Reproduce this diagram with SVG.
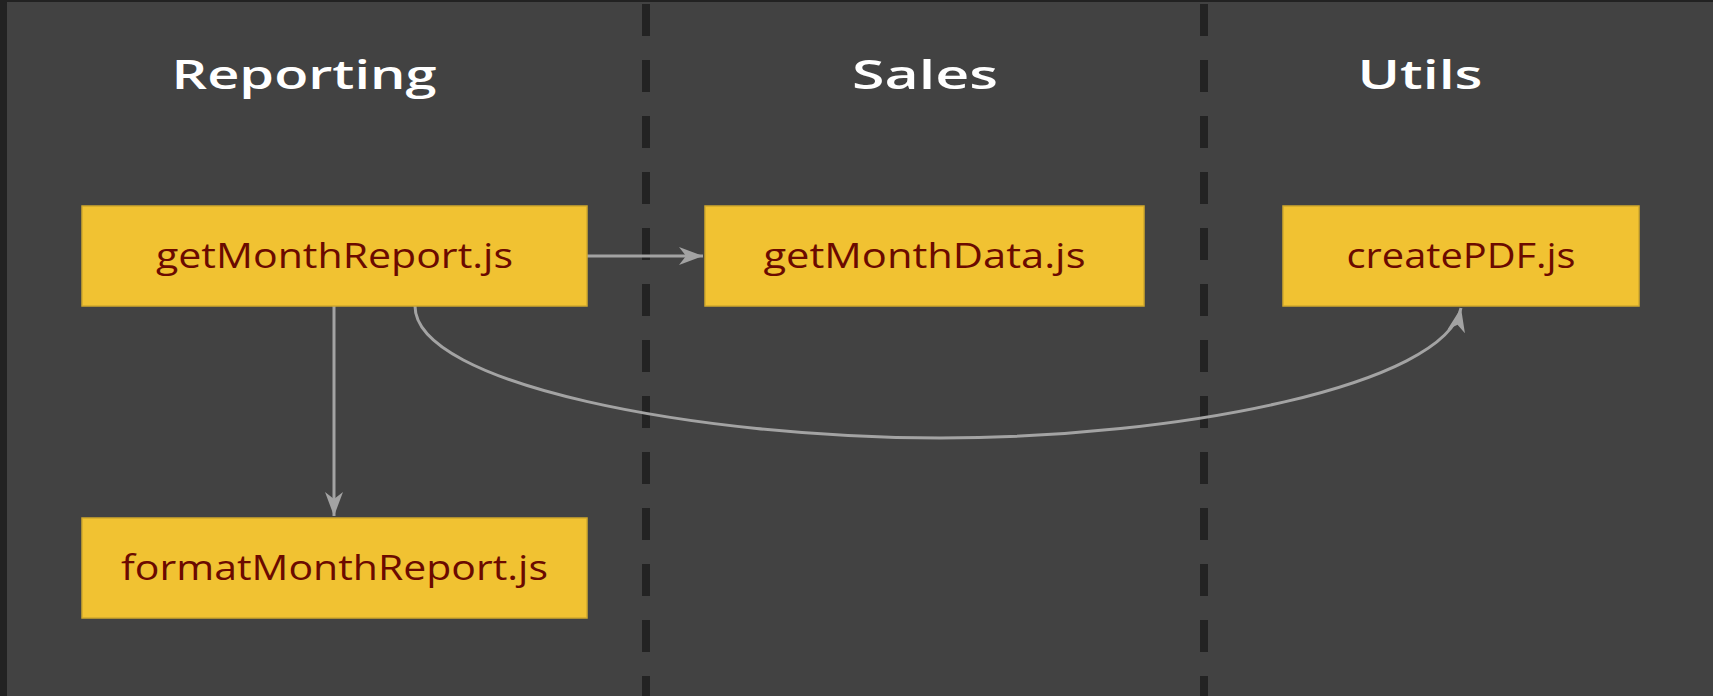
<svg xmlns="http://www.w3.org/2000/svg" width="1713" height="696" viewBox="0 0 1713 696">
  <defs>
    <style>
      .title { font-family: "Open Sans", "Liberation Sans", sans-serif; font-size: 40px; font-weight: 600; fill: #ffffff; text-anchor: middle; }
      .box { fill: #f1c232; stroke: #d1a92c; stroke-width: 1.5; }
      .label { font-family: "Open Sans", "Liberation Sans", sans-serif; font-size: 34px; fill: #6b0a00; text-anchor: middle; }
      .lane { stroke: #232323; stroke-width: 8; stroke-dasharray: 32 24; }
      .edge { fill: none; stroke: #a3a3a3; stroke-width: 3; }
    </style>
    <marker id="arrow" markerUnits="userSpaceOnUse" markerWidth="26" markerHeight="20" refX="24" refY="9" orient="auto">
      <path d="M0,0 L24,9 L0,18 L7,9 z" fill="#a3a3a3"/>
    </marker>
  </defs>

  <!-- canvas -->
  <rect x="0" y="0" width="1713" height="696" fill="#222222"/>
  <rect x="7" y="2" width="1706" height="694" fill="#424242"/>

  <!-- swimlane separators -->
  <g id="lanes">
    <line class="lane" x1="646" y1="4" x2="646" y2="696"/>
    <line class="lane" x1="1204" y1="4" x2="1204" y2="696"/>
  </g>

  <!-- lane titles -->
  <g id="titles">
    <text class="title" x="304" y="89" textLength="265" lengthAdjust="spacingAndGlyphs">Reporting</text>
    <text class="title" x="925" y="89" textLength="146" lengthAdjust="spacingAndGlyphs">Sales</text>
    <text class="title" x="1420" y="89" textLength="125" lengthAdjust="spacingAndGlyphs">Utils</text>
  </g>

  <!-- connectors -->
  <g id="edges">
    <path class="edge" d="M587,256 L703,256" marker-end="url(#arrow)"/>
    <path class="edge" d="M334,306 L334,516" marker-end="url(#arrow)"/>
    <path class="edge" d="M415,306 C415,385 700,438 940,438 C1180,438 1445,385 1461,308" marker-end="url(#arrow)"/>
  </g>

  <!-- nodes -->
  <g id="getMonthReport">
    <rect class="box" x="82" y="206" width="505" height="100"/>
    <text class="label" x="334.5" y="268" textLength="357" lengthAdjust="spacingAndGlyphs">getMonthReport.js</text>
  </g>
  <g id="getMonthData">
    <rect class="box" x="705" y="206" width="439" height="100"/>
    <text class="label" x="924.5" y="268" textLength="322" lengthAdjust="spacingAndGlyphs">getMonthData.js</text>
  </g>
  <g id="createPDF">
    <rect class="box" x="1283" y="206" width="356" height="100"/>
    <text class="label" x="1461" y="268" textLength="229" lengthAdjust="spacingAndGlyphs">createPDF.js</text>
  </g>
  <g id="formatMonthReport">
    <rect class="box" x="82" y="518" width="505" height="100"/>
    <text class="label" x="334.5" y="580" textLength="427" lengthAdjust="spacingAndGlyphs">formatMonthReport.js</text>
  </g>
</svg>
